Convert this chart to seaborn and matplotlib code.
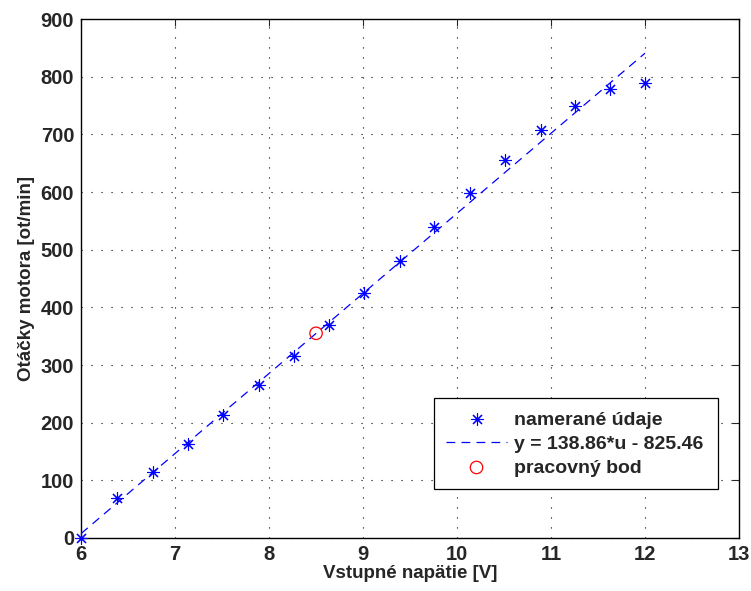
import numpy as np
import pandas as pd
import matplotlib
matplotlib.use("Agg")
import matplotlib.pyplot as plt
import seaborn as sns

# Data
napatie = [6.0, 6.38, 6.76, 7.14, 7.51, 7.89, 8.26, 8.64, 9.01, 9.39, 9.76, 10.14, 10.51, 10.89, 11.26, 11.63, 12.0]
otacky = [0, 70, 115, 163, 213, 266, 315, 370, 425, 480, 540, 598, 655, 707, 750, 778, 790]
fit_k = 138.86
fit_q = -825.46
fit_u = [6.0, 12.0]
bod_u = [8.5]
bod_n = [355]
xticks = [6, 7, 8, 9, 10, 11, 12, 13]
yticks = [0, 100, 200, 300, 400, 500, 600, 700, 800, 900]

sns.set_style("white")
plt.rcParams['font.family'] = ['Liberation Sans', 'DejaVu Sans']
plt.rcParams['font.weight'] = 'bold'

df_meas = pd.DataFrame({"u": napatie, "n": otacky})
df_fit = pd.DataFrame({"u": fit_u, "n": [fit_k * u + fit_q for u in fit_u]})
df_bod = pd.DataFrame({"u": bod_u, "n": bod_n})

fig = plt.figure(figsize=(7.51, 5.91), dpi=100)
ax = fig.add_axes([0.108, 0.0897, 0.876, 0.878])

sns.scatterplot(data=df_meas, x="u", y="n", ax=ax, marker=(8, 2, 0), s=75,
                color="#0000ff", linewidth=0.8, edgecolor="#0000ff",
                label="nameran\u00e9 \u00fadaje", zorder=3, clip_on=False)
sns.lineplot(data=df_fit, x="u", y="n", ax=ax, color="#0000ff", linewidth=0.9,
             dashes=False, label="y = 138.86*u - 825.46", zorder=2)
ax.lines[-1].set_dashes((7, 5))
sns.scatterplot(data=df_bod, x="u", y="n", ax=ax, marker="o", s=80,
                facecolor="none", edgecolor="#ff0000", linewidth=0.9,
                label="pracovn\u00fd bod", zorder=4)

ax.set_xlim(6, 13)
ax.set_ylim(0, 900)
ax.set_xticks(xticks)
ax.set_yticks(yticks)
ax.tick_params(direction="in", top=True, right=True, length=5, width=0.8,
               labelsize=14.5, pad=5)
for lab in ax.get_xticklabels() + ax.get_yticklabels():
    lab.set_fontweight("bold")
ax.grid(True, linestyle=(0, (1, 8)), color="black", linewidth=0.8)
for sp in ax.spines.values():
    sp.set_color("black")
    sp.set_linewidth(1.0)

ax.set_xlabel("Vstupn\u00e9 nap\u00e4tie [V]", fontsize=13.5, fontweight="bold", labelpad=1)
ax.set_ylabel("Ot\u00e1\u010dky motora [ot/min]", fontsize=13.5, fontweight="bold", labelpad=4)

leg = ax.legend(loc="lower left", bbox_to_anchor=(0.536, 0.094, 0.432, 0.176),
                mode="expand", fontsize=14, frameon=True, fancybox=False,
                edgecolor="black", framealpha=1, handlelength=3.1,
                borderpad=0.65, labelspacing=0.33, handletextpad=0.4,
                borderaxespad=0)
leg.get_frame().set_linewidth(0.9)
for t in leg.get_texts():
    t.set_fontweight("bold")

fig.savefig("out.png", dpi=100)
